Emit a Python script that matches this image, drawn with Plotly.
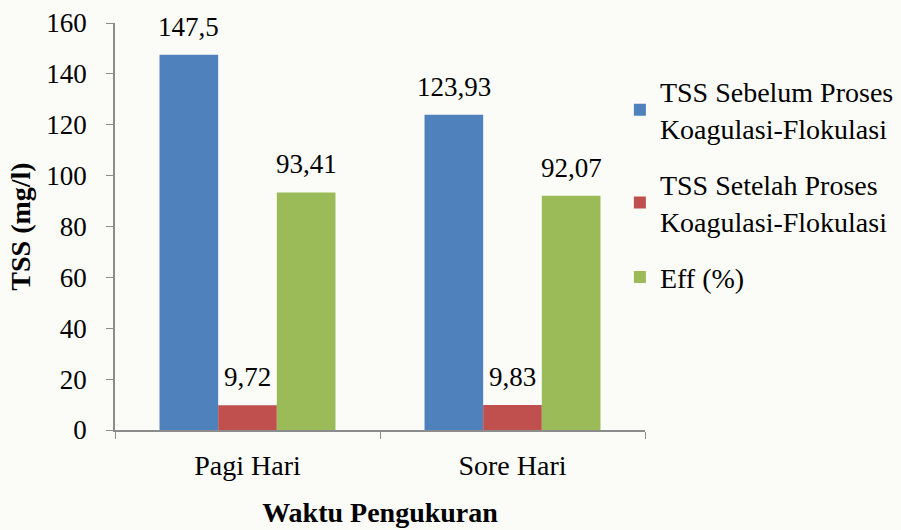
import plotly.graph_objects as go

categories = ["Pagi Hari", "Sore Hari"]
series_names = ["TSS Sebelum Proses<br>Koagulasi-Flokulasi",
                "TSS Setelah Proses<br>Koagulasi-Flokulasi",
                "Eff (%)"]
tss_sebelum = [147.5, 123.93]
tss_setelah = [9.72, 9.83]
eff = [93.41, 92.07]
labels_sebelum = ["147,5", "123,93"]
labels_setelah = ["9,72", "9,83"]
labels_eff = ["93,41", "92,07"]

colors = ["#4F81BD", "#C0504D", "#9BBB59"]
FONT = "Liberation Serif"
FS = 27
FL = 28
bargap = 0.336

series = [tss_sebelum, tss_setelah, eff]
labels = [labels_sebelum, labels_setelah, labels_eff]

fig = go.Figure()
for i, (name, vals) in enumerate(zip(series_names, series)):
    fig.add_trace(go.Bar(
        x=categories, y=vals, name=name, marker_color=colors[i],
        marker_line_width=0, legendgroup=f"g{i}",
    ))

w = (1 - bargap) / 3
for i, (vals, labs) in enumerate(zip(series, labels)):
    for j, (v, lab) in enumerate(zip(vals, labs)):
        fig.add_annotation(
            x=j + (i - 1) * w, y=v, xref="x", yref="y",
            text=lab, showarrow=False, yanchor="bottom", yshift=11,
            font=dict(family=FONT, size=FS, color="#000"),
        )

fig.update_layout(
    width=901, height=530,
    margin=dict(l=115, r=256, t=23, b=100, autoexpand=False),
    paper_bgcolor="#fbfcf7", plot_bgcolor="#fbfcf7",
    barmode="group", bargap=bargap, bargroupgap=0,
    font=dict(family=FONT, size=FS, color="#000"),
    showlegend=True,
    legend=dict(x=0.688, y=0.874, xref="container", yref="container",
                xanchor="left", yanchor="top",
                bgcolor="rgba(0,0,0,0)", tracegroupgap=17,
                itemwidth=30, font=dict(family=FONT, size=FL),
                traceorder="grouped"),
    xaxis=dict(
        showline=True, linecolor="#8c8c8c", linewidth=1.5, automargin=False,
        ticks="outside", tickson="boundaries", ticklen=7, tickcolor="#8c8c8c",
        tickfont=dict(family=FONT, size=FL), showgrid=False,
        ticklabelstandoff=10,
        title=dict(text="<b>Waktu Pengukuran</b>", standoff=22,
                   font=dict(family=FONT, size=FL)),
    ),
    yaxis=dict(
        range=[0, 160], dtick=20, showline=True, linecolor="#8c8c8c",
        linewidth=1.5, ticks="outside", ticklen=7, tickcolor="#8c8c8c",
        showgrid=False, zeroline=False, ticklabelstandoff=14, automargin=False,
        tickfont=dict(family=FONT, size=FS),
        title=dict(text="<b>TSS (mg/l)</b>", standoff=8,
                   font=dict(family=FONT, size=FL)),
    ),
)

fig.write_html("out.html", config={"displayModeBar": False},
               post_script="document.body.style.margin='0';")
